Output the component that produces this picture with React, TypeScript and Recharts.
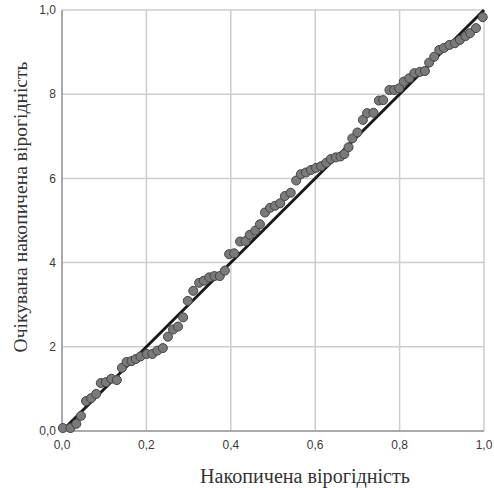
import {
  ScatterChart,
  Scatter,
  XAxis,
  YAxis,
  CartesianGrid,
  ReferenceLine,
  Label,
} from 'recharts'

// observed cumulative probability (x) vs expected cumulative probability (y)
const observed = [
  0.002, 0.02, 0.034, 0.045, 0.057, 0.069, 0.081, 0.092, 0.104, 0.117,
  0.13, 0.142, 0.153, 0.165, 0.175, 0.186, 0.201, 0.214, 0.226, 0.239,
  0.251, 0.263, 0.275, 0.287, 0.298, 0.311, 0.325, 0.336, 0.349, 0.361,
  0.374, 0.386, 0.396, 0.408, 0.422, 0.435, 0.445, 0.458, 0.469, 0.481,
  0.493, 0.505, 0.517, 0.528, 0.542, 0.555, 0.566, 0.578, 0.59, 0.602,
  0.614, 0.626, 0.637, 0.649, 0.66, 0.669, 0.679, 0.688, 0.7, 0.713,
  0.723, 0.738, 0.751, 0.761, 0.776, 0.787, 0.799, 0.81, 0.823, 0.835,
  0.848, 0.86, 0.87, 0.882, 0.894, 0.905, 0.918, 0.931, 0.943, 0.956,
  0.967, 0.981, 0.997,
]

const expected = [
  0.007, 0.007, 0.017, 0.036, 0.071, 0.078, 0.088, 0.114, 0.116, 0.124,
  0.121, 0.15, 0.164, 0.166, 0.171, 0.177, 0.183, 0.183, 0.191, 0.197,
  0.224, 0.241, 0.248, 0.27, 0.309, 0.333, 0.352, 0.357, 0.365, 0.368,
  0.368, 0.381, 0.42, 0.422, 0.45, 0.451, 0.466, 0.476, 0.491, 0.519,
  0.53, 0.535, 0.541, 0.558, 0.566, 0.595, 0.61, 0.614, 0.62, 0.625,
  0.629, 0.637, 0.646, 0.65, 0.652, 0.658, 0.674, 0.695, 0.709, 0.739,
  0.755, 0.756, 0.785, 0.786, 0.81, 0.81, 0.814, 0.83, 0.838, 0.85,
  0.853, 0.855, 0.875, 0.889, 0.905, 0.91, 0.917, 0.921, 0.929, 0.938,
  0.945, 0.957, 0.983,
]

const ticks = [0, 0.2, 0.4, 0.6, 0.8, 1]
const xTickLabels = ['0,0', '0,2', '0,4', '0,6', '0,8', '1,0']
const yTickLabels = ['0,0', '2', '4', '6', '8', '1,0']

const xTitle = 'Накопичена вірогідність'
const yTitle = 'Очікувана накопичена вірогідність'

const points = observed.map((x, i) => ({ x, y: expected[i] }))

const tickStyle = { fontSize: 12, fill: '#3a3a3a', fontFamily: 'Liberation Sans, Arial, sans-serif' }
const titleFont = 'Liberation Serif, Times New Roman, serif'

export default function App() {
  return (
    <div style={{ position: 'absolute', left: 0, top: 0, width: 494, height: 488, background: '#fff' }}>
      <ScatterChart width={494} height={488} margin={{ top: 10, right: 10, bottom: 0, left: 0 }}>
        <CartesianGrid stroke="#cdcdcd" strokeWidth={1.5} verticalValues={ticks} horizontalValues={ticks} />
        <XAxis
          type="number"
          dataKey="x"
          domain={[0, 1]}
          ticks={ticks}
          tickFormatter={(v: number) => xTickLabels[ticks.indexOf(v)]}
          height={57}
          tickSize={0}
          tickMargin={9}
          tick={tickStyle}
          stroke="#9a9a9a"
          strokeWidth={1.5}
        >
          <Label
            content={() => (
              <text
                x={305}
                y={483}
                textAnchor="middle"
                fontSize={20}
                textLength={210}
                lengthAdjust="spacingAndGlyphs"
                fill="#333"
                fontFamily={titleFont}
              >
                {xTitle}
              </text>
            )}
          />
        </XAxis>
        <YAxis
          type="number"
          dataKey="y"
          domain={[0, 1]}
          ticks={ticks}
          tickFormatter={(v: number) => yTickLabels[ticks.indexOf(v)]}
          width={62}
          tickSize={0}
          tickMargin={6}
          tick={tickStyle}
          stroke="#9a9a9a"
          strokeWidth={1.5}
        >
          <Label
            content={() => (
              <text
                x={27}
                y={207}
                transform="rotate(-90, 27, 207)"
                textAnchor="middle"
                fontSize={19}
                textLength={291}
                lengthAdjust="spacingAndGlyphs"
                fill="#333"
                fontFamily={titleFont}
              >
                {yTitle}
              </text>
            )}
          />
        </YAxis>
        <Scatter
          data={points}
          fill="#7a7a7a"
          stroke="#444"
          strokeWidth={1}
          shape="circle"
          isAnimationActive={false}
        />
        <ReferenceLine
          segment={[{ x: 0, y: 0 }, { x: 1, y: 1 }]}
          stroke="#1a1a1a"
          strokeWidth={3}
          ifOverflow="extendDomain"
        />
      </ScatterChart>
    </div>
  )
}
